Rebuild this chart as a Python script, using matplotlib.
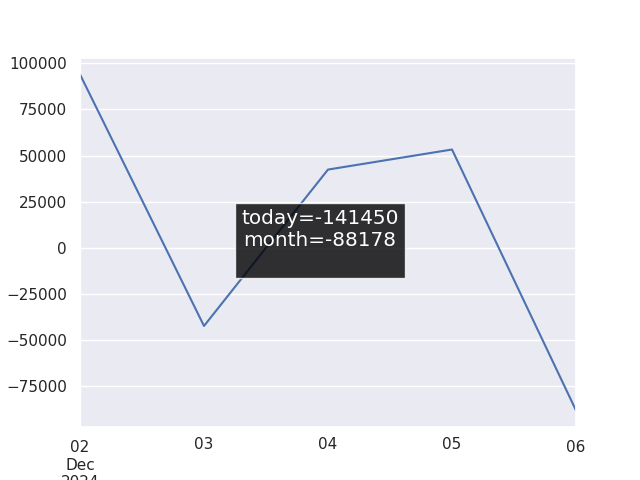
import matplotlib
matplotlib.use('Agg')
import matplotlib.pyplot as plt
import pandas as pd
import seaborn as sns

sns.set_theme()

dates = pd.date_range('2024-12-02', periods=5, freq='D')
balance = [94000, -42400, 42400, 53272, -88178]
today = -141450
month = -88178

series = pd.Series(balance, index=dates)

fig, ax = plt.subplots()
series.plot(ax=ax)

fig.text(
    0.5, 0.5,
    f'today={today}\nmonth={month}\n',
    ha='center', va='center',
    fontsize='large', color='white',
    bbox=dict(facecolor='black', alpha=0.8, boxstyle='square')
)

fig.savefig('out.png')
